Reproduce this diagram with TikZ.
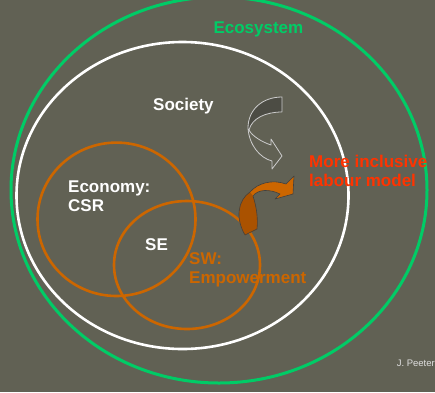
\documentclass[tikz,border=0pt]{standalone}
\usepackage{fontspec}
\setmainfont{Liberation Sans}
\definecolor{slide}{RGB}{97,97,84}
\definecolor{ecogreen}{RGB}{0,204,102}
\definecolor{swor}{RGB}{204,102,0}
\definecolor{swdark}{RGB}{170,82,0}
\definecolor{inclred}{RGB}{255,51,0}
\definecolor{arrowgray}{RGB}{76,76,68}
\tikzset{
    lbl/.style={anchor=base west,inner sep=0pt,align=left,font=\bfseries\fontsize{17}{19.2}\selectfont},
    ring/.style={line width=2.6pt},
}
\begin{document}
\begin{tikzpicture}[x=1pt,y=-1pt]
        %%%%%%%%% Sfondo %%%%%%%%%
        \fill[slide] (0,0) rectangle (435,392);
        \useasboundingbox (0,0) rectangle (435,392);

        %%%%%%%%% Cerchi %%%%%%%%%
        \draw[ring,ecogreen,line width=3pt] (219,190) ellipse [x radius=208,y radius=193];
        \draw[ring,white] (182.5,195.5) ellipse [x radius=166,y radius=153.5];
        \draw[ring,swor] (116.5,219.3) ellipse [x radius=79,y radius=76.7];
        \draw[ring,swor] (187,265) ellipse [x radius=73,y radius=64];

        %%%%%%%%% Testo %%%%%%%%%%
        \node[lbl,ecogreen] (eco) at (213.3,33.3) {Ecosystem};
        \node[lbl,white] (soc) at (153,110) {Society};
        \node[lbl,white] (econ) at (68,211.7) {Economy:\\CSR};
        \node[lbl,white] (se) at (145,250) {SE};
        \node[lbl,swor] (sw) at (189,283.3) {SW:\\Empowerment};
        \node[lbl,inclred] (incl) at (309,186.7) {More inclusive\\labour model};
        \node[anchor=base east,inner sep=0pt,text=black!12,font=\fontsize{9.5}{11}\selectfont] (author) at (435,366.7) {J. Peeter};

        %%%%%%%%% Frecce %%%%%%%%%
        \fill[arrowgray] (282,97) .. controls (262,97) and (248,110) .. (248,128)
            -- (249,130) .. controls (252,118) and (266,112) .. (282,112) -- cycle;
        \draw[black!20,line width=0.8pt,line join=round] (282,97) .. controls (262,97) and (248,110) .. (248,128)
            .. controls (249,145) and (260,158) .. (272,161) -- (272,169) -- (282,156) -- (271,139) -- (271,145)
            .. controls (262,142) and (252,136) .. (249,130) .. controls (252,118) and (266,112) .. (282,112) -- cycle;

        \fill[swor] (245,235) .. controls (235,218) and (238,200) .. (250,192) .. controls (258,183) and (272,179) .. (286,184)
            -- (294,176) -- (293,194) -- (275,199) -- (280,194) .. controls (270,189) and (258,189) .. (253,196)
            .. controls (257,208) and (258,220) .. (257,229) -- cycle;
        \fill[swdark] (245,235) .. controls (235,218) and (238,200) .. (250,192) -- (253,196)
            .. controls (257,208) and (258,220) .. (257,229) -- cycle;
        \draw[black!75,line width=0.6pt,line join=round] (245,235) .. controls (235,218) and (238,200) .. (250,192)
            .. controls (258,183) and (272,179) .. (286,184) -- (294,176) -- (293,194) -- (275,199) -- (280,194)
            .. controls (270,189) and (258,189) .. (253,196) .. controls (257,208) and (258,220) .. (257,229) -- cycle;
\end{tikzpicture}
\end{document}
